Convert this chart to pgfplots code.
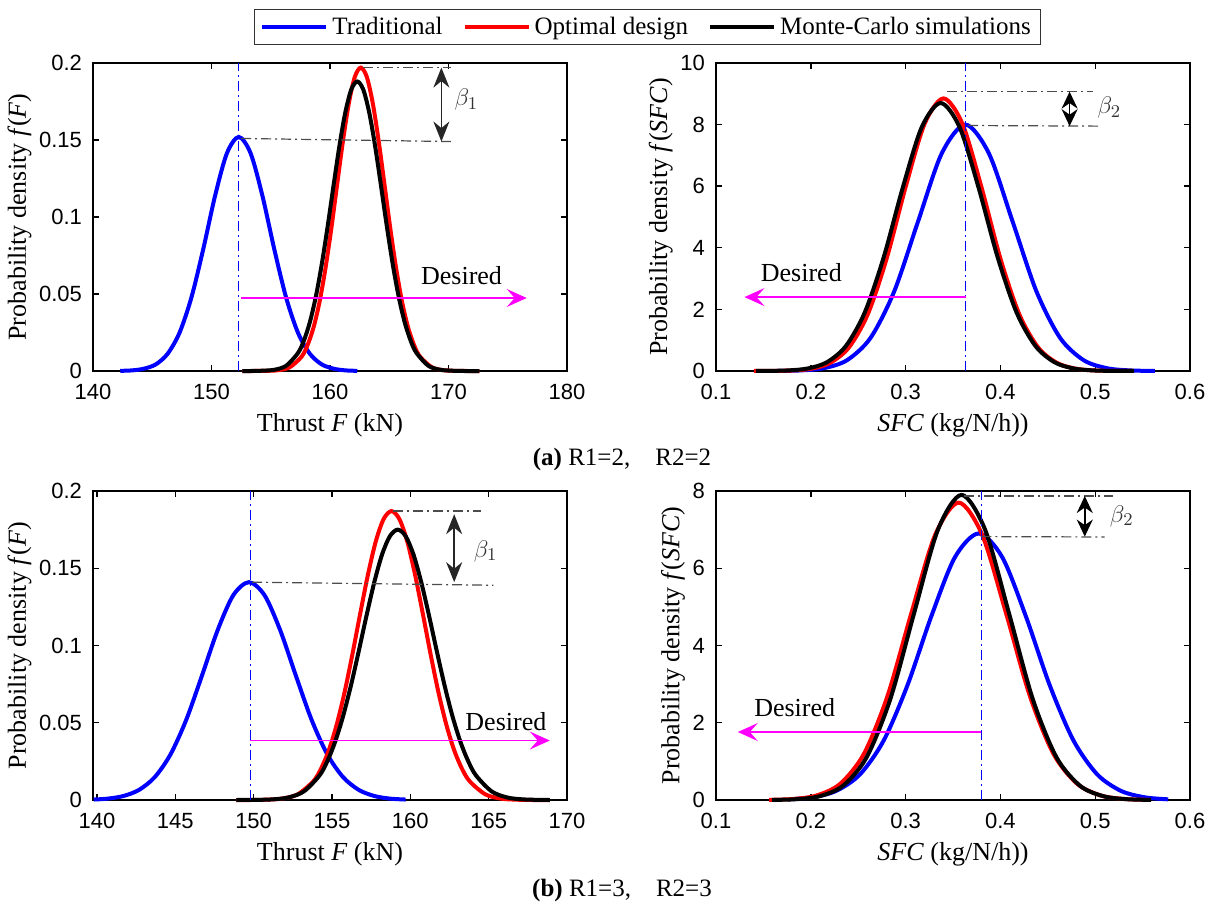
\documentclass[border=0pt]{standalone}
\usepackage{pgfplots}
\pgfplotsset{compat=1.18}
\usepackage{fontspec}
\setmainfont{Liberation Serif}
\setsansfont{Liberation Sans}
\usetikzlibrary{arrows.meta}

\pgfplotstableread{
x y
142.3 0.0001
143.3 0.0004
144.3 0.0015
145.3 0.0043
146.3 0.0112
147.3 0.0248
148.3 0.0476
149.3 0.0790
150.3 0.1137
151.3 0.1414
152.3 0.1520
153.3 0.1414
154.3 0.1137
155.3 0.0790
156.3 0.0476
157.3 0.0248
158.3 0.0112
159.3 0.0043
160.3 0.0015
161.3 0.0004
162.3 0.0001
}\aBlue
\pgfplotstableread{
x y
152.6 0
153.6 0.0000
154.6 0.0001
155.6 0.0005
156.6 0.0024
157.6 0.0093
158.1 0.0167
158.6 0.0280
159.1 0.0442
159.6 0.0658
160.1 0.0919
160.6 0.1210
161.1 0.1497
161.6 0.1743
162.1 0.1911
162.6 0.1970
163.1 0.1911
163.6 0.1743
164.1 0.1497
164.6 0.1210
165.1 0.0919
165.6 0.0658
166.1 0.0442
166.6 0.0280
167.1 0.0167
167.6 0.0093
168.6 0.0024
169.6 0.0005
170.6 0.0001
171.6 0
172.6 0
}\aRed
\pgfplotstableread{
x y
152.6 0
153.3 0.0000
154.3 0.0002
155.3 0.0008
156.3 0.0034
157.3 0.0117
157.8 0.0198
158.3 0.0317
158.8 0.0481
159.3 0.0691
159.8 0.0938
160.3 0.1205
160.8 0.1464
161.3 0.1682
161.8 0.1829
162.3 0.1880
162.8 0.1829
163.3 0.1682
163.8 0.1464
164.3 0.1205
164.8 0.0938
165.3 0.0691
165.8 0.0481
166.3 0.0317
166.8 0.0198
167.3 0.0117
168.3 0.0034
169.3 0.0008
170.3 0.0002
171.3 0.0000
172.6 0
}\aBlack
\pgfplotstableread{
x y
0.163 0.0026
0.188 0.0171
0.213 0.0873
0.238 0.347
0.263 1.074
0.288 2.586
0.313 4.842
0.338 7.056
0.363 8.000
0.388 7.056
0.413 4.842
0.438 2.586
0.463 1.074
0.488 0.347
0.513 0.0873
0.538 0.0171
0.563 0.0026
}\bBlue
\pgfplotstableread{
x y
0.14 0.0004
0.16 0.0031
0.18 0.0163
0.20 0.0715
0.22 0.257
0.24 0.757
0.26 1.835
0.28 3.652
0.30 5.972
0.32 8.022
0.34 8.850
0.36 8.022
0.38 5.972
0.40 3.652
0.42 1.835
0.44 0.757
0.46 0.257
0.48 0.0715
0.50 0.0163
0.52 0.0031
0.54 0.0004
}\bRed
\pgfplotstableread{
x y
0.142 0.0010
0.157 0.0040
0.177 0.0200
0.197 0.0831
0.217 0.285
0.237 0.811
0.257 1.905
0.277 3.703
0.297 5.952
0.317 7.913
0.337 8.700
0.357 7.913
0.377 5.952
0.397 3.703
0.417 1.905
0.437 0.811
0.457 0.285
0.477 0.0831
0.497 0.0200
0.517 0.0040
0.537 0.0007
0.541 0.0005
}\bBlack
\pgfplotstableread{
x y
139.8 0.0003
140.7 0.0009
141.7 0.0026
142.7 0.0066
143.7 0.0149
144.7 0.0296
145.7 0.0519
146.7 0.0804
147.7 0.1098
148.7 0.1325
149.7 0.1410
150.7 0.1325
151.7 0.1098
152.7 0.0804
153.7 0.0519
154.7 0.0296
155.7 0.0149
156.7 0.0066
157.7 0.0026
158.7 0.0009
159.7 0.0003
}\cBlue
\pgfplotstableread{
x y
148.9 0
149.8 0.0000
150.8 0.0002
151.8 0.0009
152.8 0.0036
153.8 0.0120
154.3 0.0202
154.8 0.0322
155.3 0.0487
155.8 0.0695
156.3 0.0941
156.8 0.1205
157.3 0.1460
157.8 0.1675
158.3 0.1819
158.8 0.1870
159.3 0.1819
159.8 0.1675
160.3 0.1460
160.8 0.1205
161.3 0.0941
161.8 0.0695
162.3 0.0487
162.8 0.0322
163.3 0.0202
163.8 0.0120
164.8 0.0036
165.8 0.0009
166.8 0.0002
167.8 0.0000
168.9 0
}\cRed
\pgfplotstableread{
x y
148.9 0
150.2 0.0001
151.2 0.0004
152.2 0.0016
153.2 0.0055
154.2 0.0158
154.7 0.0250
155.2 0.0376
155.7 0.0539
156.2 0.0736
156.7 0.0959
157.2 0.1191
157.7 0.1409
158.2 0.1590
158.7 0.1708
159.2 0.1750
159.7 0.1708
160.2 0.1590
160.7 0.1409
161.2 0.1191
161.7 0.0959
162.2 0.0736
162.7 0.0539
163.2 0.0376
163.7 0.0250
164.2 0.0158
165.2 0.0055
166.2 0.0016
167.2 0.0004
168.2 0.0001
168.9 0
}\cBlack
\pgfplotstableread{
x y
0.177 0.0173
0.202 0.0705
0.227 0.238
0.252 0.666
0.277 1.545
0.302 2.973
0.327 4.747
0.352 6.284
0.377 6.900
0.402 6.284
0.427 4.747
0.452 2.973
0.477 1.545
0.502 0.666
0.527 0.238
0.552 0.0705
0.577 0.0173
}\dBlue
\pgfplotstableread{
x y
0.156 0.0045
0.181 0.0256
0.206 0.116
0.231 0.419
0.256 1.194
0.281 2.699
0.306 4.833
0.331 6.853
0.356 7.700
0.381 6.853
0.406 4.833
0.431 2.699
0.456 1.194
0.481 0.419
0.506 0.116
0.531 0.0256
0.556 0.0045
}\dRed
\pgfplotstableread{
x y
0.159 0.0031
0.184 0.0195
0.209 0.0959
0.234 0.369
0.259 1.112
0.284 2.623
0.309 4.840
0.334 6.989
0.359 7.900
0.384 6.989
0.409 4.840
0.434 2.623
0.459 1.112
0.484 0.369
0.509 0.0959
0.534 0.0195
0.559 0.0031
}\dBlack

\definecolor{mblue}{RGB}{0,0,255}
\definecolor{mred}{RGB}{255,0,0}
\definecolor{mmag}{RGB}{255,0,255}

\pgfplotsset{
  myax/.style={
    scale only axis, width=237pt, height=154pt,
    axis line style={line width=0.8pt},
    tick align=inside, major tick length=3pt,
    every tick/.style={black, line width=0.7pt},
    tick label style={font=\sffamily\fontsize{11}{13}\selectfont},
    label style={font=\fontsize{13}{15}\selectfont},
    ylabel style={yshift=-3pt},
    /pgf/number format/assume math mode=true,
    scaled ticks=false,
    yticklabel style={/pgf/number format/fixed, xshift=-2pt},
    xticklabel style={/pgf/number format/fixed, yshift=-3pt},
    clip=false,
    every axis plot/.append style={line width=2pt, smooth},
  },
}
\tikzset{
  ddot/.style={dash pattern=on 5pt off 2pt on 1pt off 2pt, line width=0.6pt},
  dbl/.style={{Stealth[length=10pt,width=8pt]}-{Stealth[length=10pt,width=8pt]}, line width=0.8pt, black!85},
  des/.style={-{Stealth[length=10pt,width=9pt,inset=4pt]}, line width=0.7pt, draw=mmag, fill=mmag},
}

\begin{document}
\begin{tikzpicture}
\useasboundingbox (0,0) rectangle (608.5pt,456pt);

% (a) left
\begin{axis}[myax, at={(46.5pt,270.5pt)}, anchor=south west,
  xmin=140, xmax=180, ymin=0, ymax=0.2,
  xtick={140,150,160,170,180}, ytick={0,0.05,0.1,0.15,0.2},
  xlabel={Thrust \textit{F} (kN)},
  ylabel={Probability density \textit{f}(\textit{F})},
  legend columns=3,
  legend style={at={(1.170,1.117)}, anchor=center, draw=black!80, line width=0.6pt,
    font=\fontsize{12.5}{14}\selectfont, inner ysep=1.5pt,
    /tikz/every even column/.append style={column sep=8pt}},
  legend image code/.code={\draw[#1, line width=2pt] (0pt,0pt) -- (32pt,0pt);},
]
\addplot[mblue] table {\aBlue}; \addlegendentry{Traditional}
\addplot[mred] table {\aRed}; \addlegendentry{Optimal design}
\addplot[black] table {\aBlack}; \addlegendentry{Monte-Carlo simulations}
\draw[ddot, mblue] (axis cs:152.3,0) -- (axis cs:152.3,0.2);
\draw[ddot, black!70] (axis cs:162.8,0.197) -- (axis cs:170.2,0.197);
\draw[ddot, black!70] (axis cs:152.5,0.151) -- (axis cs:170.2,0.149);
\draw[dbl] (axis cs:169.4,0.197) -- (axis cs:169.4,0.149);
\node[black!80, font=\fontsize{13}{15}\selectfont] at (axis cs:171.5,0.176) {$\beta_1$};
\node[font=\fontsize{13}{15}\selectfont] at (axis cs:171.1,0.0617) {Desired};
\draw[des] (axis cs:152.5,0.0474) -- (axis cs:176.6,0.0474);
\end{axis}

% (a) right
\begin{axis}[myax, at={(358pt,270.5pt)}, anchor=south west,
  xmin=0.1, xmax=0.6, ymin=0, ymax=10,
  xtick={0.1,0.2,0.3,0.4,0.5,0.6}, ytick={0,2,4,6,8,10},
  xlabel={\textit{SFC} (kg/N/h))},
  ylabel={Probability density \textit{f}(\textit{SFC})},
]
\addplot[mblue] table {\bBlue};
\addplot[mred] table {\bRed};
\addplot[black] table {\bBlack};
\draw[ddot, mblue] (axis cs:0.363,0) -- (axis cs:0.363,10);
\draw[ddot, black!70] (axis cs:0.344,9.07) -- (axis cs:0.498,9.07);
\draw[ddot, black!70] (axis cs:0.366,7.97) -- (axis cs:0.506,7.95);
\draw[{Stealth[length=8.5pt,width=8pt]}-{Stealth[length=8.5pt,width=8pt]}, line width=0.8pt, black] (axis cs:0.473,9.07) -- (axis cs:0.473,7.95);
\node[black!80, font=\fontsize{13}{15}\selectfont] at (axis cs:0.515,8.55) {$\beta_2$};
\node[font=\fontsize{13}{15}\selectfont] at (axis cs:0.19,3.2) {Desired};
\draw[des] (axis cs:0.364,2.4) -- (axis cs:0.13,2.4);
\end{axis}

% (b) left
\begin{axis}[myax, at={(46.5pt,56pt)}, anchor=south west, height=154.5pt,
  xmin=139.75, xmax=170, ymin=0, ymax=0.2,
  xtick={140,145,150,155,160,165,170}, ytick={0,0.05,0.1,0.15,0.2},
  xlabel={Thrust \textit{F} (kN)},
  ylabel={Probability density \textit{f}(\textit{F})},
]
\addplot[mblue] table {\cBlue};
\addplot[mred] table {\cRed};
\addplot[black] table {\cBlack};
\draw[ddot, mblue] (axis cs:149.8,0) -- (axis cs:149.8,0.2);
\draw[ddot, black!70] (axis cs:158.9,0.187) -- (axis cs:164.5,0.187);
\draw[ddot, black!70] (axis cs:149.9,0.141) -- (axis cs:165.3,0.139);
\draw[dbl] (axis cs:162.8,0.185) -- (axis cs:162.8,0.141);
\node[black!80, font=\fontsize{13}{15}\selectfont] at (axis cs:164.8,0.161) {$\beta_1$};
\node[font=\fontsize{13}{15}\selectfont] at (axis cs:166.1,0.051) {Desired};
\draw[des] (axis cs:149.8,0.0385) -- (axis cs:168.9,0.0385);
\end{axis}

% (b) right
\begin{axis}[myax, at={(358pt,56pt)}, anchor=south west, height=154.5pt,
  xmin=0.1, xmax=0.6, ymin=0, ymax=8,
  xtick={0.1,0.2,0.3,0.4,0.5,0.6}, ytick={0,2,4,6,8},
  xlabel={\textit{SFC} (kg/N/h))},
  ylabel={Probability density \textit{f}(\textit{SFC})},
]
\addplot[mblue] table {\dBlue};
\addplot[mred] table {\dRed};
\addplot[black] table {\dBlack};
\draw[ddot, mblue] (axis cs:0.38,0) -- (axis cs:0.38,8);
\draw[ddot, black!70] (axis cs:0.362,7.87) -- (axis cs:0.519,7.87);
\draw[ddot, black!70] (axis cs:0.38,6.82) -- (axis cs:0.51,6.81);
\draw[{Stealth[length=8.5pt,width=8pt]}-{Stealth[length=8.5pt,width=8pt]}, line width=0.8pt, black] (axis cs:0.489,7.87) -- (axis cs:0.489,6.82);
\node[black!80, font=\fontsize{13}{15}\selectfont] at (axis cs:0.528,7.35) {$\beta_2$};
\node[font=\fontsize{13}{15}\selectfont] at (axis cs:0.183,2.38) {Desired};
\draw[des] (axis cs:0.38,1.76) -- (axis cs:0.123,1.76);
\end{axis}

\node[font=\fontsize{12.5}{14}\selectfont] at (311pt,226.5pt) {\textbf{(a)} R1=2,\quad R2=2};
\node[font=\fontsize{12.5}{14}\selectfont] at (311pt,11pt) {\textbf{(b)} R1=3,\quad R2=3};
\end{tikzpicture}
\end{document}
